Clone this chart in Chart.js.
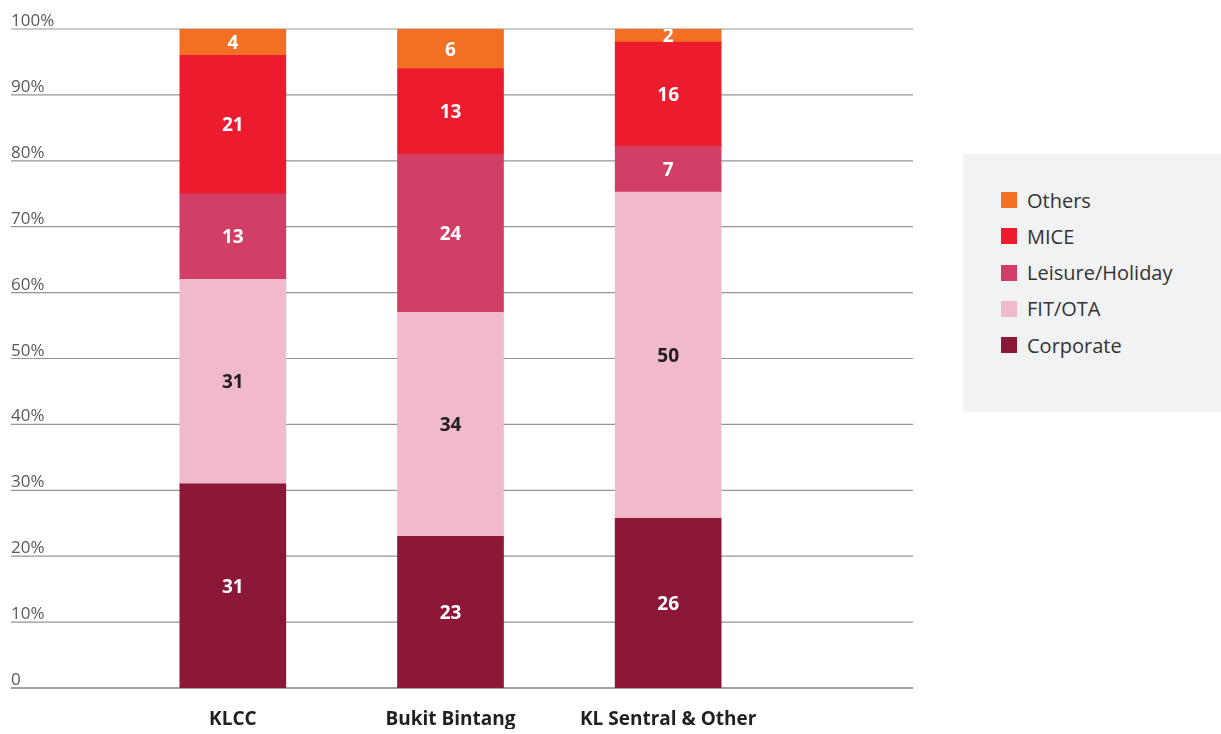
<!DOCTYPE html>
<html>
<head>
<meta charset="utf-8">
<script src="https://cdn.jsdelivr.net/npm/chart.js@4.4.1/dist/chart.umd.min.js"></script>
<style>
  html, body { margin: 0; padding: 0; background: #fff; }
  #wrap { position: relative; width: 1221px; height: 734px; overflow: hidden; }
  #legend { position: absolute; left: 963px; top: 154px; width: 258px; height: 258px; background: #f1f2f4;
    font-family: "Open Sans", Lato, sans-serif; }
  .item { position: absolute; left: 38px; height: 22px; display: flex; align-items: center;
    font-size: 20px; color: #333; }
  .sw { width: 16px; height: 16px; margin-right: 10px; }
</style>
</head>
<body>
<div id="wrap">
  <canvas id="c" width="1221" height="734"></canvas>
  <div id="legend"></div>
</div>
<script>
const categories = ['KLCC', 'Bukit Bintang', 'KL Sentral & Other'];
const corporate = [31, 23, 26];
const fitOta = [31, 34, 50];
const leisure = [13, 24, 7];
const mice = [21, 13, 16];
const others = [4, 6, 2];
const yTicks = [0, 10, 20, 30, 40, 50, 60, 70, 80, 90, 100];

const seriesDefs = [
  { label: 'Corporate', values: corporate, color: '#8c1737', text: '#ffffff' },
  { label: 'FIT/OTA', values: fitOta, color: '#f0bacb', text: '#231f20' },
  { label: 'Leisure/Holiday', values: leisure, color: '#d13f66', text: '#ffffff' },
  { label: 'MICE', values: mice, color: '#ec1c2e', text: '#ffffff' },
  { label: 'Others', values: others, color: '#f26f24', text: '#ffffff' }
];

const totals = categories.map((_, i) => seriesDefs.reduce((s, d) => s + d.values[i], 0));

const datasets = seriesDefs.map(d => ({
  label: d.label,
  data: d.values.map((v, i) => v / totals[i] * 100),
  rawValues: d.values,
  backgroundColor: d.color,
  textColor: d.text,
  barThickness: 106,
  borderWidth: 0
}));

const gridLeft = 11, gridRight = 913;
const catLeft = 124, catRight = 777;

const gridPlugin = {
  id: 'fullGrid',
  beforeDatasetsDraw(chart) {
    const ctx = chart.ctx;
    const ys = chart.scales.y;
    ctx.save();
    yTicks.forEach(v => {
      const y = ys.getPixelForValue(v);
      ctx.strokeStyle = v === 0 ? '#444444' : '#959595';
      ctx.lineWidth = 1.2;
      ctx.beginPath();
      ctx.moveTo(gridLeft, y);
      ctx.lineTo(gridRight, y);
      ctx.stroke();
    });
    ctx.fillStyle = '#5a5a5a';
    ctx.font = '17px "Open Sans", Lato, sans-serif';
    ctx.textAlign = 'left';
    ctx.textBaseline = 'alphabetic';
    yTicks.forEach(v => {
      const y = ys.getPixelForValue(v);
      ctx.fillText(v === 0 ? '0' : v + '%', gridLeft, y - 3);
    });
    ctx.restore();
  }
};

const labelPlugin = {
  id: 'segLabels',
  afterDatasetsDraw(chart) {
    const ctx = chart.ctx;
    chart.data.datasets.forEach((ds, di) => {
      const meta = chart.getDatasetMeta(di);
      meta.data.forEach((bar, i) => {
        const top = Math.min(bar.y, bar.base), bottom = Math.max(bar.y, bar.base);
        const left = bar.x - bar.width / 2;
        ctx.save();
        ctx.beginPath();
        ctx.rect(left, top, bar.width, bottom - top);
        ctx.clip();
        ctx.fillStyle = ds.textColor;
        ctx.font = 'bold 19px "Open Sans", Lato, sans-serif';
        ctx.textAlign = 'center';
        ctx.textBaseline = 'middle';
        ctx.fillText(String(ds.rawValues[i]), bar.x, (top + bottom) / 2 + 1.5);
        ctx.restore();
      });
    });
  }
};

new Chart(document.getElementById('c'), {
  type: 'bar',
  data: { labels: categories, datasets },
  options: {
    responsive: false,
    animation: false,
    layout: { padding: { left: catLeft, right: 1221 - catRight, top: 29, bottom: 5 } },
    plugins: { legend: { display: false }, tooltip: { enabled: false } },
    scales: {
      x: {
        stacked: true,
        grid: { display: false, drawTicks: false },
        border: { display: false },
        afterFit(scale) { scale.height = 41; },
        ticks: {
          autoSkip: false,
          maxRotation: 0,
          padding: 20,
          color: '#231f20',
          font: { family: '"Open Sans", Lato, sans-serif', size: 19, weight: 'bold' }
        }
      },
      y: {
        stacked: true,
        min: 0,
        max: 100,
        grid: { display: false, drawTicks: false },
        border: { display: false },
        ticks: { display: false }
      }
    }
  },
  plugins: [gridPlugin, labelPlugin]
});

const legend = document.getElementById('legend');
const order = [...seriesDefs].reverse();
order.forEach((d, k) => {
  const it = document.createElement('div');
  it.className = 'item';
  it.style.top = (35 + k * 36.3) + 'px';
  it.innerHTML = '<span class="sw" style="background:' + d.color + '"></span><span>' + d.label + '</span>';
  legend.appendChild(it);
});
</script>
</body>
</html>
